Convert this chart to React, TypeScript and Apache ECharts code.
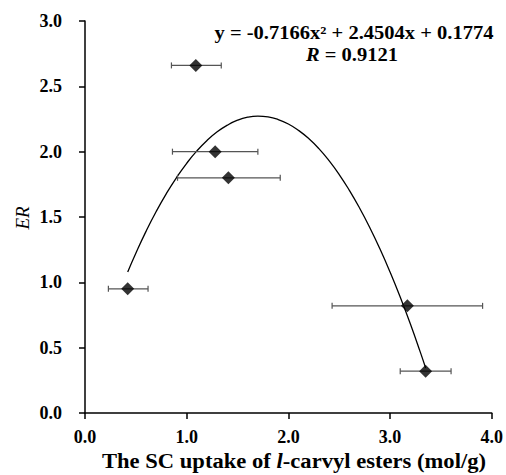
import React, { useEffect, useRef } from "react";
import * as echarts from "echarts";

const xValues = [1.09, 1.28, 1.41, 0.42, 3.17, 3.35];
const yValues = [2.66, 2.0, 1.8, 0.95, 0.82, 0.32];
const xErrLow = [0.85, 0.86, 0.91, 0.23, 2.43, 3.1];
const xErrHigh = [1.34, 1.7, 1.92, 0.62, 3.91, 3.6];

const curveX = [0.42, 0.5, 0.6, 0.7, 0.8, 0.9, 1.0, 1.1, 1.2, 1.3, 1.4, 1.5, 1.6, 1.7, 1.8, 1.9, 2.0, 2.1, 2.2, 2.3, 2.4, 2.5, 2.6, 2.7, 2.8, 2.9, 3.0, 3.1, 3.2, 3.3, 3.35];
const curveY = [1.08, 1.223, 1.39, 1.542, 1.679, 1.802, 1.911, 2.006, 2.086, 2.152, 2.203, 2.241, 2.264, 2.272, 2.266, 2.246, 2.212, 2.163, 2.1, 2.023, 1.931, 1.825, 1.704, 1.569, 1.42, 1.257, 1.079, 0.887, 0.681, 0.46, 0.344];

const xTicks = ["0.0", "1.0", "2.0", "3.0", "4.0"];
const yTicks = ["0.0", "0.5", "1.0", "1.5", "2.0", "2.5", "3.0"];

const equationText = "y = -0.7166x² + 2.4504x + 0.1774";
const rText = "0.9121";

const FONT = "'Liberation Serif', 'Times New Roman', serif";

export default function App() {
  const ref = useRef<HTMLDivElement>(null);
  useEffect(() => {
    document.body.style.margin = "0";
    if (!ref.current) return;
    const chart = echarts.init(ref.current, null, { renderer: "svg" });
    const scatterData = xValues.map((x, i) => [x, yValues[i]]);
    const errData = xValues.map((x, i) => [x, yValues[i], xErrLow[i], xErrHigh[i]]);
    const curveData = curveX.map((x, i) => [x, curveY[i]]);
    const axisLabelStyle = {
      fontFamily: FONT,
      fontWeight: "bold" as const,
      fontSize: 18,
      color: "#000",
    };
    chart.setOption({
      animation: false,
      grid: { left: 85, right: 10.5, top: 21, bottom: 62, containLabel: false },
      xAxis: {
        type: "value",
        min: 0,
        max: 4,
        interval: 1,
        splitLine: { show: false },
        axisLine: { show: true, lineStyle: { color: "#000", width: 1.5 } },
        axisTick: { show: true, length: 6, lineStyle: { color: "#000", width: 1.5 } },
        axisLabel: {
          ...axisLabelStyle,
          margin: 15,
          formatter: (v: number) => xTicks[Math.round(v)] ?? "",
        },
      },
      yAxis: {
        type: "value",
        min: 0,
        max: 3,
        interval: 0.5,
        splitLine: { show: false },
        axisLine: { show: true, lineStyle: { color: "#000", width: 1.5 } },
        axisTick: { show: true, length: 6, lineStyle: { color: "#000", width: 1.5 } },
        axisLabel: {
          ...axisLabelStyle,
          margin: 23,
          formatter: (v: number) => yTicks[Math.round(v * 2)] ?? "",
        },
      },
      series: [
        {
          type: "line",
          data: curveData,
          smooth: true,
          showSymbol: false,
          symbol: "none",
          lineStyle: { color: "#000", width: 1.3 },
          z: 1,
        },
        {
          type: "custom",
          data: errData,
          encode: { x: [0, 2, 3], y: 1 },
          z: 2,
          renderItem: (params: any, api: any) => {
            const y = api.value(1);
            const lo = api.coord([api.value(2), y]);
            const hi = api.coord([api.value(3), y]);
            const h = 3;
            const st = { stroke: "#555", lineWidth: 1.2 };
            return {
              type: "group",
              children: [
                { type: "line", shape: { x1: lo[0], y1: lo[1], x2: hi[0], y2: hi[1] }, style: st },
                { type: "line", shape: { x1: lo[0], y1: lo[1] - h, x2: lo[0], y2: lo[1] + h }, style: st },
                { type: "line", shape: { x1: hi[0], y1: hi[1] - h, x2: hi[0], y2: hi[1] + h }, style: st },
              ],
            };
          },
        },
        {
          type: "scatter",
          data: scatterData,
          symbol: "diamond",
          symbolSize: [13, 13],
          itemStyle: { color: "#000" },
          z: 3,
        },
      ],
      graphic: [
        {
          type: "text",
          x: 354,
          y: 33,
          scaleX: 1.14,
          style: {
            text: equationText,
            fontFamily: FONT,
            fontWeight: "bold",
            fontSize: 18,
            fill: "#000",
            align: "center",
            verticalAlign: "middle",
          },
        },
        {
          type: "text",
          x: 352,
          y: 55,
          scaleX: 1.14,
          style: {
            text: "{i|R}{n| = " + rText + "}",
            align: "center",
            verticalAlign: "middle",
            rich: {
              i: { fontFamily: FONT, fontWeight: "bold", fontStyle: "italic", fontSize: 18, fill: "#000" },
              n: { fontFamily: FONT, fontWeight: "bold", fontSize: 18, fill: "#000" },
            },
          },
        },
        {
          type: "text",
          x: 22,
          y: 218,
          rotation: Math.PI / 2,
          style: {
            text: "ER",
            fontFamily: FONT,
            fontStyle: "italic",
            fontSize: 19,
            fill: "#000",
            align: "center",
            verticalAlign: "middle",
          },
        },
        {
          type: "text",
          x: 294,
          y: 461,
          scaleX: 1.13,
          style: {
            text: "{n|The SC uptake of }{i|l}{n|-carvyl esters (mol/g)}",
            align: "center",
            verticalAlign: "middle",
            rich: {
              n: { fontFamily: FONT, fontWeight: "bold", fontSize: 20, fill: "#000" },
              i: { fontFamily: FONT, fontWeight: "bold", fontStyle: "italic", fontSize: 20, fill: "#000" },
            },
          },
        },
      ],
    });
    return () => chart.dispose();
  }, []);
  return (
    <div
      ref={ref}
      style={{ position: "absolute", left: 0, top: 0, width: 506, height: 475, background: "#fff" }}
    />
  );
}
